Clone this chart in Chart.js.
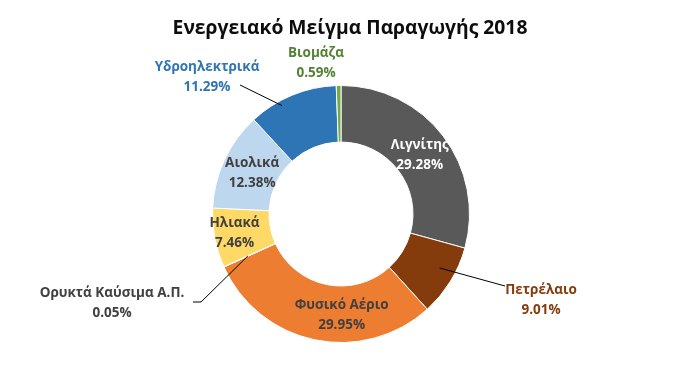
<!DOCTYPE html>
<html><head><meta charset="utf-8">
<script src="https://cdn.jsdelivr.net/npm/chart.js@4.4.0/dist/chart.umd.min.js"></script>
<style>html,body{margin:0;padding:0;background:#fff}#wrap{width:700px;height:381px;position:relative}</style>
</head><body><div id="wrap"><canvas id="c" width="700" height="381"></canvas></div>
<script>
const title = 'Ενεργειακό Μείγμα Παραγωγής 2018';
const categories = ['Λιγνίτης','Πετρέλαιο','Φυσικό Αέριο','Ορυκτά Καύσιμα Α.Π.','Ηλιακά','Αιολικά','Υδροηλεκτρικά','Βιομάζα'];
const shares = [29.28, 9.01, 29.95, 0.05, 7.46, 12.38, 11.29, 0.59];
const sliceColors = ['#595959','#843C0C','#ED7D31','#A5A5A5','#FFD966','#BDD7EE','#2E75B6','#70AD47'];
const labelColors = ['#FFFFFF','#843C0C','#404040','#404040','#404040','#404040','#2E75B6','#548235'];
// label layout: inside labels use arc centroid (+dx,dy); outside labels use offset from centre and a leader line
const labelLayout = [
  {mode:'in', dx:-1, dy:2, maxW:58},
  {mode:'out', lx:200, ly:86, leader:{f:0.41, r:0.875, pts:[[164,72]]}},
  {mode:'in', dx:21, dy:3},
  {mode:'out', lx:-229, ly:89, leader:{f:0.5, r:0.795, pts:[[-140,88],[-148,88]]}},
  {mode:'in', dx:-8, dy:0},
  {mode:'in', dx:2, dy:1},
  {mode:'out', lx:-134, ly:-137, leader:{f:0.35, r:0.96, pts:[[-101,-129]]}},
  {mode:'out', lx:-25, ly:-151, leader:null}
];
const FONT = '"Open Sans", "Noto Sans", sans-serif';

const labelPlugin = {
  id:'labels',
  afterDatasetsDraw(chart){
    const ctx = chart.ctx;
    const meta = chart.getDatasetMeta(0);
    ctx.save();
    ctx.font = 'bold 19.3px ' + FONT;
    ctx.fillStyle = '#0D0D0D';
    ctx.textAlign = 'center'; ctx.textBaseline = 'middle';
    ctx.fillText(title, 350, 29);
    meta.data.forEach((arc, i) => {
      const p = arc.getProps(['x','y','startAngle','endAngle','innerRadius','outerRadius'], true);
      const L = labelLayout[i];
      let tx, ty;
      if (L.mode === 'in') {
        const c = arc.tooltipPosition(true);
        tx = c.x + L.dx; ty = c.y + L.dy;
      } else {
        tx = p.x + L.lx; ty = p.y + L.ly;
        if (L.leader) {
          const a = p.startAngle + (p.endAngle - p.startAngle) * L.leader.f;
          const r = p.outerRadius * L.leader.r;
          ctx.beginPath();
          ctx.strokeStyle = '#000'; ctx.lineWidth = 1;
          ctx.moveTo(p.x + Math.cos(a)*r, p.y + Math.sin(a)*r);
          L.leader.pts.forEach(q => ctx.lineTo(p.x + q[0], p.y + q[1]));
          ctx.stroke();
        }
      }
      ctx.font = 'bold 13.5px ' + FONT;
      ctx.fillStyle = labelColors[i];
      ctx.textAlign = 'center'; ctx.textBaseline = 'middle';
      if (L.maxW) ctx.fillText(categories[i], tx, ty - 10, L.maxW);
      else ctx.fillText(categories[i], tx, ty - 10);
      ctx.fillText(shares[i].toFixed(2) + '%', tx, ty + 10);
    });
    ctx.restore();
  }
};

new Chart(document.getElementById('c'), {
  type:'doughnut',
  data:{ labels:categories, datasets:[{ data:shares, backgroundColor:sliceColors, borderColor:'#FFFFFF', borderWidth:1 }]},
  options:{
    responsive:false, animation:false, cutout:'56%',
    layout:{ padding:{ top:85, bottom:38, left:0, right:18 } },
    plugins:{ legend:{display:false}, tooltip:{enabled:false}, title:{display:false} }
  },
  plugins:[labelPlugin]
});
</script></body></html>
